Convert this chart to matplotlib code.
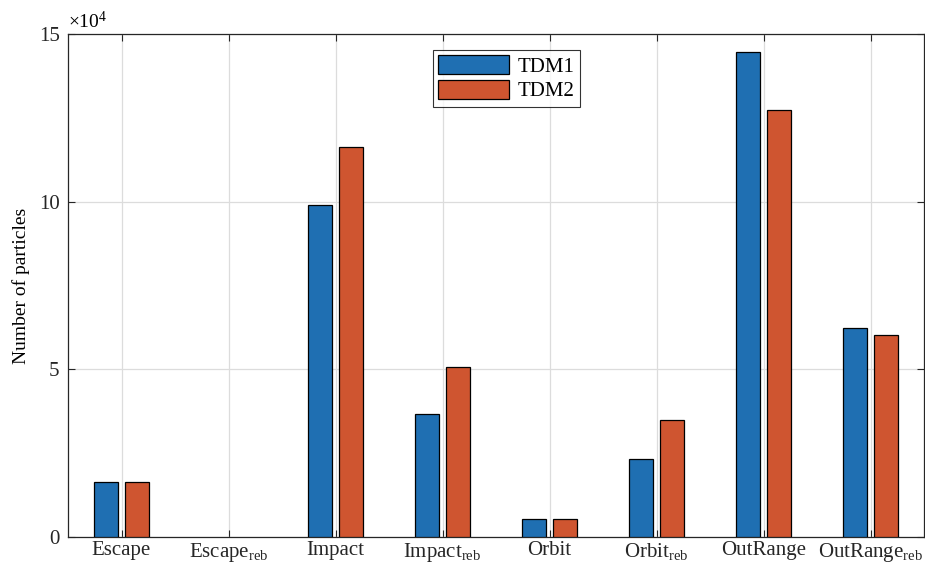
import numpy as np
import matplotlib.pyplot as plt

plt.rcParams['font.family'] = ['Liberation Serif', 'DejaVu Serif']
plt.rcParams['mathtext.fontset'] = 'custom'
plt.rcParams['mathtext.rm'] = 'Liberation Serif'
plt.rcParams['mathtext.it'] = 'Liberation Serif:italic'

# data (values in units of 1e4)
categories = ['Escape', 'Escape$_{\\mathrm{reb}}$', 'Impact', 'Impact$_{\\mathrm{reb}}$',
              'Orbit', 'Orbit$_{\\mathrm{reb}}$', 'OutRange', 'OutRange$_{\\mathrm{reb}}$']
tdm1 = [1.65, 0.0, 9.90, 3.67, 0.54, 2.33, 14.46, 6.23]
tdm2 = [1.65, 0.0, 11.63, 5.07, 0.54, 3.49, 12.74, 6.02]

fig = plt.figure(figsize=(9.25, 5.65), dpi=100)
ax = fig.add_axes([68/925, 28/565, 856/925, 503/565])

x = np.arange(1, len(categories) + 1)
w = 0.23
off = 0.145
# no outline for empty bars
lw1 = [0.9 if v > 0 else 0 for v in tdm1]
lw2 = [0.9 if v > 0 else 0 for v in tdm2]
ax.bar(x - off, tdm1, w, color='#1f6fb2', edgecolor='black', linewidth=lw1, label='TDM1', zorder=3)
ax.bar(x + off, tdm2, w, color='#cf5530', edgecolor='black', linewidth=lw2, label='TDM2', zorder=3)

ax.set_xlim(0.5, 8.5)
ax.set_ylim(0, 15)
ax.set_xticks(x)
ax.set_xticklabels(categories, fontsize=15)
ax.set_yticks([0, 5, 10, 15])
ax.set_yticklabels(['0', '5', '10', '15'], fontsize=15)
ax.set_ylabel('Number of particles', fontsize=14)
ax.yaxis.set_label_coords(-0.044, 0.5)

ax.grid(True, color='#dcdcdc', linewidth=0.9, zorder=0)
ax.set_axisbelow(True)
ax.tick_params(direction='in', top=True, right=True, length=5, width=0.8, colors='#262626', pad=6)
ax.tick_params(axis='x', pad=3)
for s in ax.spines.values():
    s.set_color('#262626')
    s.set_linewidth(0.9)

ax.text(0.0, 1.003, '$\\times$10$^4$', transform=ax.transAxes, fontsize=14, ha='left', va='bottom')

leg = ax.legend(loc='upper center', bbox_to_anchor=(0.512, 0.968), borderaxespad=0, fontsize=15,
                frameon=True, fancybox=False, edgecolor='black', handlelength=3.4, handleheight=1.0,
                borderpad=0.25, labelspacing=0.15, handletextpad=0.4)
leg.get_frame().set_linewidth(0.8)

fig.savefig('out.png', dpi=100)
